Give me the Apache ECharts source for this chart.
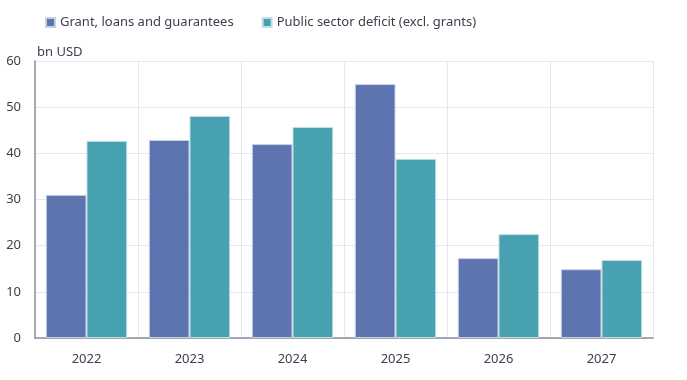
<!DOCTYPE html>
<html><head><meta charset="utf-8">
<script src="https://cdn.jsdelivr.net/npm/echarts@6/dist/echarts.min.js"></script>
<style>html,body{margin:0;padding:0;background:#fff}#c{width:687px;height:380px}</style>
</head><body><div id="c"></div>
<script>
const categories = ['2022','2023','2024','2025','2026','2027'];
const grants = [31.0, 42.9, 42.0, 55.0, 17.3, 14.9];
const deficit = [42.7, 48.1, 45.7, 38.8, 22.5, 16.9];
const seriesNames = ['Grant, loans and guarantees', 'Public sector deficit (excl. grants)'];
const unitLabel = 'bn USD';

const chart = echarts.init(document.getElementById('c'));
const txt = '#3c4150';
const font = 'Noto Sans';
chart.setOption({
  animation: false,
  textStyle: {fontFamily: font},
  legend: {
    left: 40, top: 11, itemWidth: 9, itemHeight: 9, itemGap: 28, icon: 'rect',
    textStyle: {fontSize: 13, color: txt, fontFamily: font},
    data: seriesNames
  },
  grid: {left: 35, right: 34, top: 61, bottom: 42},
  xAxis: {
    type: 'category', data: categories,
    axisLine: {lineStyle: {color: '#8a909c', width: 1.5}},
    axisTick: {show: false},
    axisLabel: {fontSize: 13, color: txt, margin: 15},
    splitLine: {show: true, lineStyle: {color: '#e6e7ee'}}
  },
  yAxis: {
    type: 'value', min: 0, max: 60, interval: 10,
    name: unitLabel, nameLocation: 'end', nameGap: 2,
    nameTextStyle: {fontSize: 13, color: txt, align: 'left', padding: [0,0,0,2]},
    axisLine: {show: true, lineStyle: {color: '#8a909c', width: 1.5}},
    axisTick: {show: false},
    axisLabel: {fontSize: 13, color: txt, margin: 14},
    splitLine: {lineStyle: {color: '#e6e7ee'}}
  },
  series: [
    {name: seriesNames[0], type: 'bar', data: grants, barGap: '0%', barCategoryGap: '21%',
     itemStyle: {color: '#5e74b0', borderColor: '#c9d0e6', borderWidth: 1}},
    {name: seriesNames[1], type: 'bar', data: deficit,
     itemStyle: {color: '#48a1b0', borderColor: '#bfe0e4', borderWidth: 1}}
  ]
});
</script></body></html>
